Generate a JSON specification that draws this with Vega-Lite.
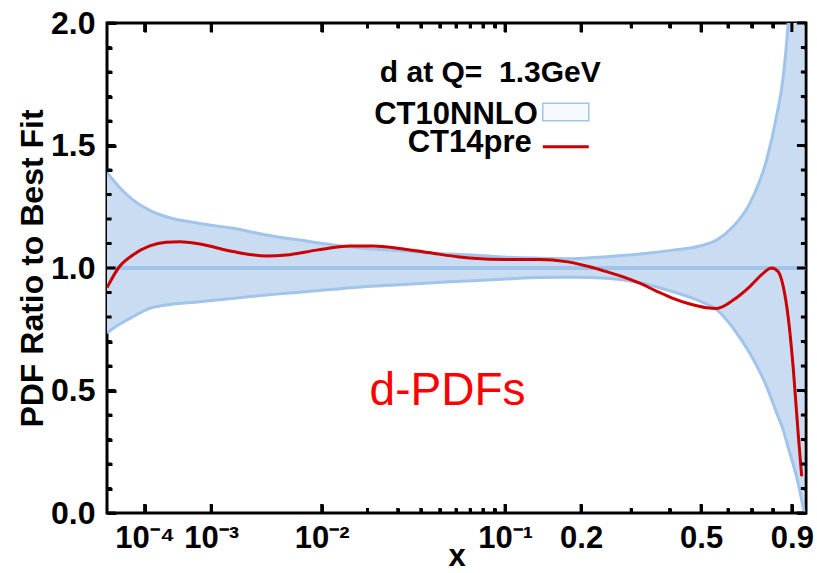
{
  "$schema": "https://vega.github.io/schema/vega-lite/v6.json",
  "width": 699,
  "height": 490,
  "autosize": {"type": "none"},
  "padding": {"left": 107, "top": 23, "right": 11, "bottom": 60},
  "background": "white",
  "config": {
    "view": {"stroke": "black", "strokeWidth": 3},
    "font": "Liberation Sans",
    "axis": {
      "domain": false,
      "grid": false,
      "labelFont": "Liberation Sans",
      "labelFontWeight": "bold",
      "labelFontSize": 32,
      "labelColor": "black",
      "labelOverlap": false,
      "titleFont": "Liberation Sans",
      "titleFontWeight": "bold",
      "titleFontSize": 32,
      "titleColor": "black"
    }
  },
  "datasets": {
    "band": [
      {"x": 1.2e-5, "lo": 0.735, "hi": 1.39},
      {"x": 2.7e-5, "lo": 0.77, "hi": 1.33},
      {"x": 5.7e-5, "lo": 0.801, "hi": 1.278},
      {"x": 1.25e-4, "lo": 0.835, "hi": 1.235},
      {"x": 2.4e-4, "lo": 0.849, "hi": 1.209},
      {"x": 7.2e-4, "lo": 0.862, "hi": 1.182},
      {"x": 1.74e-3, "lo": 0.876, "hi": 1.162},
      {"x": 3.65e-3, "lo": 0.89, "hi": 1.135},
      {"x": 6.9e-3, "lo": 0.901, "hi": 1.114},
      {"x": 0.012, "lo": 0.913, "hi": 1.094},
      {"x": 0.0197, "lo": 0.924, "hi": 1.08},
      {"x": 0.0308, "lo": 0.932, "hi": 1.071},
      {"x": 0.0462, "lo": 0.94, "hi": 1.06},
      {"x": 0.0721, "lo": 0.948, "hi": 1.053},
      {"x": 0.101, "lo": 0.955, "hi": 1.044},
      {"x": 0.139, "lo": 0.961, "hi": 1.04},
      {"x": 0.187, "lo": 0.962, "hi": 1.038},
      {"x": 0.247, "lo": 0.958, "hi": 1.046},
      {"x": 0.32, "lo": 0.94, "hi": 1.057},
      {"x": 0.41, "lo": 0.903, "hi": 1.073},
      {"x": 0.496, "lo": 0.865, "hi": 1.09},
      {"x": 0.556, "lo": 0.83, "hi": 1.114},
      {"x": 0.621, "lo": 0.754, "hi": 1.169},
      {"x": 0.692, "lo": 0.652, "hi": 1.264},
      {"x": 0.77, "lo": 0.516, "hi": 1.441},
      {"x": 0.819, "lo": 0.41, "hi": 1.618},
      {"x": 0.854, "lo": 0.339, "hi": 1.781},
      {"x": 0.88, "lo": 0.268, "hi": 2.0},
      {"x": 0.926, "lo": 0.148, "hi": 2.6},
      {"x": 0.955, "lo": 0.053, "hi": 3.0},
      {"x": 0.97, "lo": 0.0, "hi": 3.3}
    ],
    "ct14": [
      {"x": 1.2e-5, "r": 0.92},
      {"x": 2.7e-5, "r": 1.005},
      {"x": 5.7e-5, "r": 1.053},
      {"x": 1.25e-4, "r": 1.09},
      {"x": 2.4e-4, "r": 1.105},
      {"x": 3.9e-4, "r": 1.107},
      {"x": 7.2e-4, "r": 1.098},
      {"x": 1.74e-3, "r": 1.067},
      {"x": 3.65e-3, "r": 1.049},
      {"x": 5.4e-3, "r": 1.053},
      {"x": 9.2e-3, "r": 1.073},
      {"x": 0.0155, "r": 1.09},
      {"x": 0.0216, "r": 1.09},
      {"x": 0.0308, "r": 1.08},
      {"x": 0.0462, "r": 1.06},
      {"x": 0.0625, "r": 1.045},
      {"x": 0.0721, "r": 1.04},
      {"x": 0.101, "r": 1.035},
      {"x": 0.139, "r": 1.035},
      {"x": 0.176, "r": 1.026},
      {"x": 0.215, "r": 1.005},
      {"x": 0.247, "r": 0.985},
      {"x": 0.282, "r": 0.964},
      {"x": 0.32, "r": 0.938},
      {"x": 0.363, "r": 0.906},
      {"x": 0.41, "r": 0.876},
      {"x": 0.462, "r": 0.853},
      {"x": 0.519, "r": 0.838},
      {"x": 0.556, "r": 0.835},
      {"x": 0.621, "r": 0.869},
      {"x": 0.692, "r": 0.924},
      {"x": 0.753, "r": 0.978},
      {"x": 0.794, "r": 1.0},
      {"x": 0.828, "r": 0.985},
      {"x": 0.854, "r": 0.924},
      {"x": 0.88, "r": 0.8},
      {"x": 0.907, "r": 0.597},
      {"x": 0.935, "r": 0.325},
      {"x": 0.955, "r": 0.15}
    ]
  },
  "layer": [
    {
      "data": {"name": "band"},
      "mark": {"type": "area", "color": "#c9dcf2", "interpolate": "monotone", "clip": true},
      "encoding": {
        "x": {
          "field": "x", "type": "quantitative",
          "scale": {"type": "pow", "exponent": 0.22, "domain": [1.2e-5, 0.98], "nice": false, "zero": false},
          "title": "x",
          "axis": {
            "orient": "bottom",
            "offset": -9,
            "tickSize": 9,
            "tickColor": "black",
            "tickWidth": 3,
            "values": [0.0001, 0.001, 0.01, 0.1, 0.2, 0.5, 0.9],
            "labelExpr": "datum.value == 0.0001 ? '10⁻⁴' : datum.value == 0.001 ? '10⁻³' : datum.value == 0.01 ? '10⁻²' : datum.value == 0.1 ? '10⁻¹' : format(datum.value, '.1f')",
            "labelFontSize": 31,
            "labelPadding": 10,
            "titleFontSize": 31,
            "titleY": 68,
            "titleBaseline": "bottom"
          }
        },
        "y": {
          "field": "lo", "type": "quantitative",
          "scale": {"domain": [0, 2], "nice": false},
          "title": "PDF Ratio to Best Fit",
          "axis": {
            "orient": "left",
            "offset": -9,
            "tickSize": 9,
            "tickColor": "black",
            "tickWidth": 3,
            "values": [0, 0.5, 1, 1.5, 2],
            "format": ".1f",
            "labelPadding": 12,
            "titlePadding": 1
          }
        },
        "y2": {"field": "hi"}
      }
    },
    {
      "data": {"name": "band"},
      "mark": {"type": "line", "color": "#a0c4ea", "strokeWidth": 3, "interpolate": "monotone", "clip": true},
      "encoding": {
        "x": {
          "field": "x", "type": "quantitative",
          "axis": {
            "orient": "bottom", "title": null, "labels": false, "offset": -5, "tickSize": 5, "tickColor": "black", "tickWidth": 3,
            "values": [0.02, 0.03, 0.04, 0.05, 0.06, 0.07, 0.08, 0.09, 0.3, 0.4, 0.6, 0.7, 0.8]
          }
        },
        "y": {
          "field": "hi", "type": "quantitative",
          "axis": {
            "orient": "left", "title": null, "labels": false, "offset": -5, "tickSize": 5, "tickColor": "black", "tickWidth": 3,
            "values": [0.1, 0.2, 0.3, 0.4, 0.6, 0.7, 0.8, 0.9, 1.1, 1.2, 1.3, 1.4, 1.6, 1.7, 1.8, 1.9]
          }
        }
      }
    },
    {
      "data": {"name": "band"},
      "mark": {"type": "line", "color": "#a0c4ea", "strokeWidth": 3, "interpolate": "monotone", "clip": true},
      "encoding": {
        "x": {
          "field": "x", "type": "quantitative",
          "axis": {
            "orient": "top", "title": null, "labels": false, "offset": -9, "tickSize": 9, "tickColor": "black", "tickWidth": 3,
            "values": [0.0001, 0.001, 0.01, 0.1, 0.2, 0.5, 0.9]
          }
        },
        "y": {
          "field": "lo", "type": "quantitative",
          "axis": {
            "orient": "right", "title": null, "labels": false, "offset": -9, "tickSize": 9, "tickColor": "black", "tickWidth": 3,
            "values": [0, 0.5, 1, 1.5, 2]
          }
        }
      }
    },
    {
      "data": {"values": [{"y": 1}]},
      "mark": {"type": "rule", "color": "#a0c4ea", "strokeWidth": 4},
      "encoding": {
        "y": {"field": "y", "type": "quantitative", "axis": null}
      }
    },
    {
      "data": {"name": "ct14"},
      "mark": {"type": "line", "color": "#cc0000", "strokeWidth": 3, "interpolate": "monotone", "clip": true},
      "encoding": {
        "x": {
          "field": "x", "type": "quantitative",
          "axis": {
            "orient": "top", "title": null, "labels": false, "offset": -5, "tickSize": 5, "tickColor": "black", "tickWidth": 3,
            "values": [0.02, 0.03, 0.04, 0.05, 0.06, 0.07, 0.08, 0.09, 0.3, 0.4, 0.6, 0.7, 0.8]
          }
        },
        "y": {
          "field": "r", "type": "quantitative",
          "axis": {
            "orient": "right", "title": null, "labels": false, "offset": -5, "tickSize": 5, "tickColor": "black", "tickWidth": 3,
            "values": [0.1, 0.2, 0.3, 0.4, 0.6, 0.7, 0.8, 0.9, 1.1, 1.2, 1.3, 1.4, 1.6, 1.7, 1.8, 1.9]
          }
        }
      }
    },
    {
      "data": {"values": [{"v": 0.0001}, {"v": 0.001}, {"v": 0.01}, {"v": 0.1}, {"v": 0.2}, {"v": 0.5}, {"v": 0.9}]},
      "mark": {"type": "rule", "color": "black", "strokeWidth": 3},
      "encoding": {
        "x": {"field": "v", "type": "quantitative", "axis": null},
        "y": {"datum": 0, "type": "quantitative", "axis": null},
        "y2": {"datum": 0.0367}
      }
    },
    {
      "data": {"values": [{"v": 0.0001}, {"v": 0.001}, {"v": 0.01}, {"v": 0.1}, {"v": 0.2}, {"v": 0.5}, {"v": 0.9}]},
      "mark": {"type": "rule", "color": "black", "strokeWidth": 3},
      "encoding": {
        "x": {"field": "v", "type": "quantitative", "axis": null},
        "y": {"datum": 1.9633, "type": "quantitative", "axis": null},
        "y2": {"datum": 2}
      }
    },
    {
      "data": {"values": [{"v": 0.02}, {"v": 0.03}, {"v": 0.04}, {"v": 0.05}, {"v": 0.06}, {"v": 0.07}, {"v": 0.08}, {"v": 0.09}, {"v": 0.3}, {"v": 0.4}, {"v": 0.6}, {"v": 0.7}, {"v": 0.8}]},
      "mark": {"type": "rule", "color": "black", "strokeWidth": 3},
      "encoding": {
        "x": {"field": "v", "type": "quantitative", "axis": null},
        "y": {"datum": 0, "type": "quantitative", "axis": null},
        "y2": {"datum": 0.0204}
      }
    },
    {
      "data": {"values": [{"v": 0.02}, {"v": 0.03}, {"v": 0.04}, {"v": 0.05}, {"v": 0.06}, {"v": 0.07}, {"v": 0.08}, {"v": 0.09}, {"v": 0.3}, {"v": 0.4}, {"v": 0.6}, {"v": 0.7}, {"v": 0.8}]},
      "mark": {"type": "rule", "color": "black", "strokeWidth": 3},
      "encoding": {
        "x": {"field": "v", "type": "quantitative", "axis": null},
        "y": {"datum": 1.9796, "type": "quantitative", "axis": null},
        "y2": {"datum": 2}
      }
    },
    {
      "data": {"values": [{"v": 0}, {"v": 0.5}, {"v": 1}, {"v": 1.5}, {"v": 2}]},
      "mark": {"type": "rule", "color": "black", "strokeWidth": 3},
      "encoding": {
        "y": {"field": "v", "type": "quantitative", "axis": null},
        "x": {"datum": 1.2e-5, "type": "quantitative", "axis": null},
        "x2": {"datum": 2.14e-5}
      }
    },
    {
      "data": {"values": [{"v": 0}, {"v": 0.5}, {"v": 1}, {"v": 1.5}, {"v": 2}]},
      "mark": {"type": "rule", "color": "black", "strokeWidth": 3},
      "encoding": {
        "y": {"field": "v", "type": "quantitative", "axis": null},
        "x": {"datum": 0.928, "type": "quantitative", "axis": null},
        "x2": {"datum": 0.98}
      }
    },
    {
      "data": {"values": [{"v": 0.1}, {"v": 0.2}, {"v": 0.3}, {"v": 0.4}, {"v": 0.6}, {"v": 0.7}, {"v": 0.8}, {"v": 0.9}, {"v": 1.1}, {"v": 1.2}, {"v": 1.3}, {"v": 1.4}, {"v": 1.6}, {"v": 1.7}, {"v": 1.8}, {"v": 1.9}]},
      "mark": {"type": "rule", "color": "black", "strokeWidth": 3},
      "encoding": {
        "y": {"field": "v", "type": "quantitative", "axis": null},
        "x": {"datum": 1.2e-5, "type": "quantitative", "axis": null},
        "x2": {"datum": 1.65e-5}
      }
    },
    {
      "data": {"values": [{"v": 0.1}, {"v": 0.2}, {"v": 0.3}, {"v": 0.4}, {"v": 0.6}, {"v": 0.7}, {"v": 0.8}, {"v": 0.9}, {"v": 1.1}, {"v": 1.2}, {"v": 1.3}, {"v": 1.4}, {"v": 1.6}, {"v": 1.7}, {"v": 1.8}, {"v": 1.9}]},
      "mark": {"type": "rule", "color": "black", "strokeWidth": 3},
      "encoding": {
        "y": {"field": "v", "type": "quantitative", "axis": null},
        "x": {"datum": 0.9505, "type": "quantitative", "axis": null},
        "x2": {"datum": 0.98}
      }
    },
    {
      "data": {"values": [{"x": 0.0237, "y": 1.759, "t": "d at Q=\u00a0 1.3GeV"}]},
      "mark": {"type": "text", "align": "left", "baseline": "alphabetic", "fontSize": 30, "fontWeight": "bold", "font": "Liberation Sans", "color": "black"},
      "encoding": {
        "x": {"field": "x", "type": "quantitative", "axis": null},
        "y": {"field": "y", "type": "quantitative", "axis": null},
        "text": {"field": "t"}
      }
    },
    {
      "data": {"values": [{"x": 0.1366, "y": 1.588, "t": "CT10NNLO"}, {"x": 0.1291, "y": 1.473, "t": "CT14pre"}]},
      "mark": {"type": "text", "align": "right", "baseline": "alphabetic", "fontSize": 31, "fontWeight": "bold", "font": "Liberation Sans", "color": "black"},
      "encoding": {
        "x": {"field": "x", "type": "quantitative", "axis": null},
        "y": {"field": "y", "type": "quantitative", "axis": null},
        "text": {"field": "t"}
      }
    },
    {
      "data": {"values": [{"x1": 0.1429, "x2": 0.2134, "y1": 1.601, "y2": 1.672}]},
      "mark": {"type": "rect", "fill": "#f7fafd", "stroke": "#a0c4ea", "strokeWidth": 1.5},
      "encoding": {
        "x": {"field": "x1", "type": "quantitative", "axis": null},
        "x2": {"field": "x2"},
        "y": {"field": "y1", "type": "quantitative", "axis": null},
        "y2": {"field": "y2"}
      }
    },
    {
      "data": {"values": [{"x1": 0.1429, "x2": 0.2134, "y": 1.495}]},
      "mark": {"type": "rule", "color": "#cc0000", "strokeWidth": 3},
      "encoding": {
        "x": {"field": "x1", "type": "quantitative", "axis": null},
        "x2": {"field": "x2"},
        "y": {"field": "y", "type": "quantitative", "axis": null}
      }
    },
    {
      "data": {"values": [{"x": 0.0206, "y": 0.441, "t": "d-PDFs"}]},
      "mark": {"type": "text", "align": "left", "baseline": "alphabetic", "fontSize": 46, "font": "Liberation Sans", "color": "#ff0000"},
      "encoding": {
        "x": {"field": "x", "type": "quantitative", "axis": null},
        "y": {"field": "y", "type": "quantitative", "axis": null},
        "text": {"field": "t"}
      }
    }
  ],
  "resolve": {"axis": {"x": "independent", "y": "independent"}}
}
